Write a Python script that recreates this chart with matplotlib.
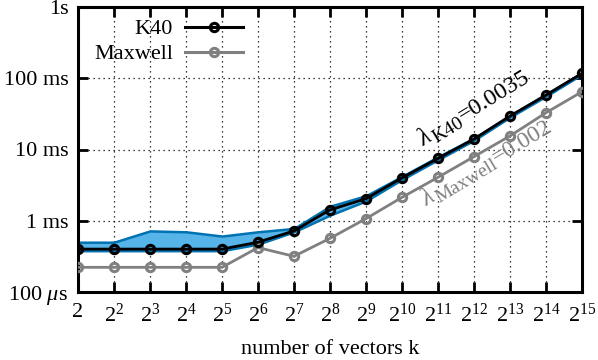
import matplotlib
matplotlib.use("Agg")
import matplotlib.pyplot as plt
from matplotlib.lines import Line2D
import numpy as np

plt.rcParams['font.family'] = ['Liberation Serif', 'DejaVu Serif']
plt.rcParams['mathtext.fontset'] = 'custom'
plt.rcParams['mathtext.rm'] = 'Liberation Serif'
plt.rcParams['mathtext.it'] = 'Liberation Serif:italic'
plt.rcParams['mathtext.bf'] = 'Liberation Serif:bold'

k_exp = list(range(1, 16))
k40_ms = [0.40, 0.40, 0.40, 0.40, 0.40, 0.50, 0.72, 1.42, 2.04, 4.0, 7.5, 14.0, 29.5, 58.0, 117.0]
maxwell_ms = [0.222, 0.222, 0.222, 0.222, 0.222, 0.42, 0.317, 0.567, 1.07, 2.13, 4.07, 7.94, 15.5, 32.8, 64.7]
band_hi_ms = [0.50, 0.50, 0.72, 0.70, 0.61, 0.70, 0.78, 1.60, 2.25, 4.2, 7.9, 14.5, 30.0, 60.0, 120.0]
band_lo_ms = [0.38, 0.38, 0.38, 0.38, 0.38, 0.47, 0.70, 1.20, 1.90, 3.8, 7.2, 13.5, 28.5, 56.0, 114.0]
ytick_vals = [1e-4, 1e-3, 1e-2, 1e-1, 1.0]
ytick_labels = [r'100 $\mu$s', '1 ms', '10 ms', '100 ms', '1s']
xtick_labels = ['2'] + [r'$2^{%d}$' % e for e in k_exp[1:]]
series_names = ['K40', 'Maxwell']
series_colors = ['black', '#808080']

k = np.power(2.0, k_exp)
sec = lambda a: np.array(a) / 1000.0

FS = 16
W, H = 598, 360
fig = plt.figure(figsize=(5.98, 3.6), dpi=100)
ax = fig.add_axes([78/W, 68/H, (582-78)/W, (292-7)/H])

ax.fill_between(k, sec(band_lo_ms), sec(band_hi_ms), facecolor='#56B4E9',
                edgecolor='#0072B2', linewidth=1.8, zorder=2)
ax.plot(k, sec(k40_ms), color=series_colors[0], lw=2, marker='o', ms=6, mfc='none',
        mew=2.2, zorder=4)
ax.plot(k, sec(maxwell_ms), color=series_colors[1], lw=2, marker='o', ms=6, mfc='none',
        mew=2.2, zorder=3)

ax.set_xscale('log', base=2)
ax.set_yscale('log')
ax.set_xlim(2, 2**15)
ax.set_ylim(1e-4, 1.0)
ax.set_xticks(k)
ax.set_xticklabels(xtick_labels)
ax.set_yticks(ytick_vals)
ax.set_yticklabels(ytick_labels)
ax.minorticks_off()
ax.tick_params(direction='in', length=7, width=2, top=True, right=True,
               labelsize=FS, pad=7)
ax.tick_params(axis='x', pad=8)
for s in ax.spines.values():
    s.set_linewidth(2.2)
ax.grid(True, which='major', color='black', linestyle=(0, (1, 3)), linewidth=0.9)

ax.set_xlabel('number of vectors k', fontsize=FS, labelpad=10)

# gnuplot-style legend: right-aligned labels, then line sample
for i, (name, col) in enumerate(zip(series_names, series_colors)):
    yc = H - (27 + 25 * i)
    fig.text(173 / W, yc / H, name, fontsize=FS, color='black', ha='right',
             va='center_baseline')
    fig.add_artist(Line2D([185 / W, 243 / W], [yc / H, yc / H], color=col, lw=2.2,
                          transform=fig.transFigure))
    fig.add_artist(Line2D([214 / W], [yc / H], color=col, marker='o', ms=6,
                          mfc='none', mew=2.2, transform=fig.transFigure))

# rotated annotations with large subscripts
renderer = fig.canvas.get_renderer()

def rotated_label(x0, y0, angle, segments, color):
    th = np.deg2rad(angle)
    ux, uy = np.cos(th), np.sin(th)
    px, py = np.sin(th), -np.cos(th)
    pos = 0.0
    for txt, size, drop in segments:
        t = fig.text(0, 0, txt, fontsize=size)
        w = t.get_window_extent(renderer).width
        t.remove()
        x = x0 + ux * pos + px * drop
        y = y0 + uy * pos + py * drop
        fig.text(x / W, y / H, txt, fontsize=size, color=color, rotation=angle,
                 rotation_mode='anchor', ha='left', va='baseline', zorder=6)
        pos += w

rotated_label(423, H - 146, 31.5,
              [(r'$\lambda$', 18, 0), ('K40', 14, 4), ('=0.0035', 17.5, 0)], 'black')
rotated_label(426, H - 206, 31,
              [(r'$\lambda$', 18, 0), ('Maxwell', 14, 4), ('=0.002', 17, 0)], '#808080')

fig.savefig('out.png', dpi=100)
